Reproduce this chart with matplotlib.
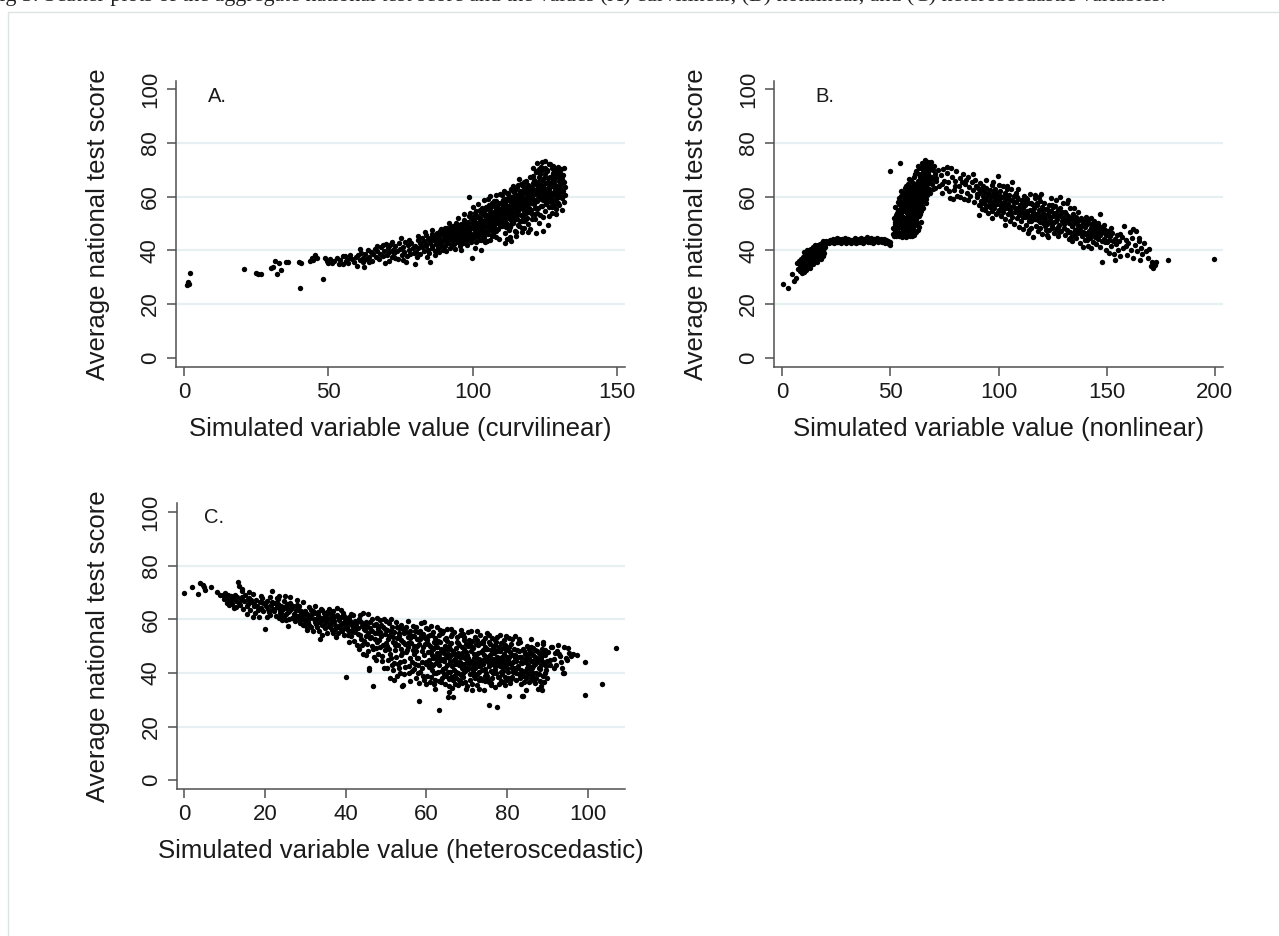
import matplotlib
matplotlib.use("Agg")
import matplotlib.pyplot as plt
from matplotlib.patches import Rectangle

# ---------------- data ----------------
curvilinear_points = [
 (0.8,27.2),(1.2,28.1),(1.6,27.6),(2.1,31.4),(20.8,33.0),(24.8,31.6),(25.6,31.2),(26.5,31.3),(30.2,33.3),(30.8,33.8),
 (31.5,36.0),(32.2,31.0),(33.0,35.2),(33.5,32.6),(35.2,35.6),(36.0,35.5),(39.8,35.5),(40.5,35.1),(40.0,26.0),(43.5,36.1),
 (44.3,37.2),(44.8,36.4),(45.3,38.1),(46.0,37.3),(48.2,29.3),(48.9,37.0),(49.6,36.2),(50.0,35.4),
 (50.5,36.8),(51.2,35.4),(52.0,36.1),(52.8,37.2),(53.5,35.0),(54.1,36.5),(54.9,34.8),(55.6,37.8),(56.2,36.0),(56.8,35.2),
 (57.5,38.3),(58.1,36.6),(58.8,35.7),(59.4,37.4),(59.9,34.3),(55.0,38.0),(57.0,37.0),
 (60.3,38.2),(60.8,36.4),(61.4,39.0),(61.9,37.1),(62.3,33.8),(62.7,38.6),(63.2,36.9),(63.8,40.1),(64.2,37.6),(64.7,39.3),
 (65.1,36.2),(65.6,38.8),(66.0,40.4),(66.5,37.4),(67.0,39.6),(67.4,36.8),(67.9,38.5),(68.3,41.2),(68.8,37.9),(69.2,39.8),
 (69.7,35.1),(61.0,40.5),(64.0,35.5),(66.8,41.5),(69.0,42.0),(62.0,35.6),
 (70.2,38.4),(70.6,40.9),(71.1,39.2),(71.5,42.1),(71.9,37.6),(72.4,40.3),(72.8,38.9),(73.2,41.7),(73.7,39.8),(74.1,36.9),
 (74.5,42.6),(74.9,40.5),(75.4,38.2),(75.8,41.3),(76.2,39.5),(76.6,43.0),(77.1,37.8),(77.5,41.9),(77.9,40.2),(78.3,38.6),
 (78.8,42.8),(79.2,40.9),(79.6,39.1),(79.9,34.8),(72.0,43.2),(76.0,36.5),(78.0,44.0),(73.0,37.2),(75.0,44.5),(70.0,42.5),
 (71.0,36.2),(77.0,35.6),
 (80.2,41.6),(80.5,39.4),(80.9,43.8),(81.2,40.7),(81.6,42.9),(81.9,38.6),(82.3,44.5),(82.6,41.2),(83.0,43.3),(83.3,39.9),
 (83.7,45.6),(84.0,42.4),(84.4,40.3),(84.7,44.1),(85.1,35.8),(85.4,42.8),(85.8,46.2),(86.1,41.5),(86.5,43.9),(86.8,39.7),
 (87.2,45.3),(87.5,42.6),(87.9,40.8),(88.2,44.7),(88.6,47.1),(88.9,42.0),(89.3,43.6),(89.6,40.2),(89.9,45.9),(81.0,45.5),
 (83.5,46.8),(85.0,39.0),(86.0,47.5),(87.0,38.2),(88.0,41.3),(89.0,48.0),(84.2,37.6),(82.0,42.0),(86.3,44.8),(88.4,39.4),
 (80.7,37.5),(83.8,41.8),(85.6,43.6),(87.7,46.4),
 (85.3,44.5),(85.9,41.0),(86.6,45.6),(87.3,42.3),(87.8,44.0),(88.5,46.0),(89.1,41.8),(89.7,47.2),
 (90.1,44.2),(90.3,41.8),(90.6,46.9),(90.8,43.1),(91.1,48.3),(91.3,45.5),(91.6,42.6),(91.8,47.2),(92.1,44.9),(92.3,40.9),
 (92.6,46.3),(92.8,43.7),(93.1,49.1),(93.3,45.8),(93.6,42.2),(93.8,47.8),(94.1,44.5),(94.3,50.2),(94.6,46.6),(94.8,43.0),
 (95.1,48.4),(95.3,45.1),(95.6,41.7),(95.8,47.0),(96.1,49.8),(96.3,44.3),(96.6,46.9),(96.8,42.8),(97.1,51.2),(97.3,48.0),
 (97.6,45.4),(97.8,43.6),(98.1,49.5),(98.3,46.2),(98.6,60.0),(98.8,47.6),(99.1,44.7),(99.3,51.9),(99.6,48.8),(99.8,45.9),
 (90.9,39.8),(92.0,50.3),(93.9,40.6),(95.0,52.0),(96.0,40.2),(97.0,53.5),(98.0,42.0),(99.0,54.0),(91.5,44.0),(94.5,47.5),
 (96.5,45.5),(98.5,50.5),(99.5,43.0),(92.5,48.8),(97.5,46.8),(93.5,44.2),(95.5,49.5),(99.9,37.0),(91.9,46.0),(94.9,45.8),
 (97.9,47.0),(96.9,50.0),(98.9,52.8),(90.5,48.5),
 (90.4,45.5),(91.0,43.5),(91.7,45.0),(92.2,47.6),(92.9,42.0),(93.4,46.9),(94.0,48.8),(94.7,44.0),(95.2,46.8),(95.9,43.4),
 (96.4,48.6),(97.0,45.0),(97.7,49.8),(98.2,44.4),(98.7,48.2),(99.2,46.3),(99.7,50.3),(93.0,45.3),(96.2,47.4),(98.4,45.3),
 (90.0,46.6),(88.0,43.0),
 (100.1,48.2),(100.3,44.6),(100.5,51.7),(100.7,46.3),(100.9,53.9),(101.1,49.5),(101.3,43.2),(101.5,47.8),(101.7,52.4),(101.9,45.5),
 (102.1,50.6),(102.3,48.1),(102.5,55.0),(102.7,46.9),(102.9,51.3),(103.1,40.2),(103.3,49.2),(103.5,53.6),(103.7,47.4),(103.9,50.8),
 (104.1,44.8),(104.3,52.7),(104.5,48.9),(104.7,56.1),(104.9,50.1),(105.1,46.4),(105.3,53.2),(105.5,49.7),(105.7,57.0),(105.9,51.5),
 (106.1,60.2),(106.3,47.6),(106.5,54.3),(106.7,50.4),(106.9,45.2),(107.1,52.9),(107.3,56.5),(107.5,49.1),(107.7,54.8),(107.9,51.8),
 (108.1,47.3),(108.3,58.2),(108.5,53.6),(108.7,50.0),(108.9,55.7),(109.1,44.1),(109.3,52.3),(109.5,57.6),(109.7,49.4),(109.9,54.5),
 (100.2,56.0),(101.0,41.0),(102.0,57.2),(103.0,44.0),(104.0,58.6),(105.0,43.5),(106.0,55.6),(107.0,46.0),(108.0,60.5),(109.0,47.8),
 (100.6,49.9),(101.6,50.2),(102.6,52.0),(103.6,51.0),(104.6,53.0),(105.6,52.0),(106.6,52.5),(107.6,53.5),(108.6,55.0),(109.6,53.8),
 (100.8,47.5),(101.8,48.6),(102.8,49.0),(103.8,48.5),(104.8,47.0),(105.8,48.8),(106.8,49.2),(107.8,50.3),(108.8,51.6),(109.8,50.7),
 (104.2,43.0),(106.2,43.8),(108.2,45.0),(109.4,61.0),(105.4,59.0),
 (100.4,50.8),(100.9,45.0),(101.4,52.9),(101.9,49.0),(102.4,46.3),(102.9,53.8),(103.4,50.2),(103.9,46.0),(104.4,55.0),(104.9,51.7),
 (105.4,48.2),(105.9,54.3),(106.4,49.9),(106.9,57.8),(107.4,51.3),(107.9,48.0),(108.4,56.5),(108.9,52.9),(109.4,49.0),(109.9,57.5),
 (100.0,52.5),(101.2,54.6),(102.2,44.0),(103.2,55.9),(104.2,50.0),(105.2,55.8),(106.2,51.8),(107.2,47.5),(108.2,53.0),(109.2,55.2),
 (101.5,46.8),(103.5,45.3),(105.5,46.0),(107.5,58.4),(109.5,51.2),
 (110.1,53.4),(110.3,49.0),(110.5,57.8),(110.7,51.2),(110.9,55.6),(111.1,46.5),(111.3,59.1),(111.5,53.9),(111.7,50.3),(111.9,56.7),
 (112.1,44.2),(112.3,61.3),(112.5,54.8),(112.7,51.9),(112.9,58.4),(113.1,48.6),(113.3,55.2),(113.5,62.7),(113.7,52.5),(113.9,57.3),
 (114.1,50.0),(114.3,60.4),(114.5,54.1),(114.7,47.3),(114.9,58.9),(115.1,56.0),(115.3,63.5),(115.5,51.6),(115.7,59.7),(115.9,54.7),
 (116.1,49.2),(116.3,61.8),(116.5,57.1),(116.7,53.3),(116.9,64.9),(117.1,58.2),(117.3,47.0),(117.5,55.5),(117.7,62.3),(117.9,51.0),
 (118.1,59.6),(118.3,56.4),(118.5,66.0),(118.7,53.8),(118.9,60.9),(119.1,49.8),(119.3,63.2),(119.5,57.7),(119.7,54.4),(119.9,67.2),
 (110.2,60.5),(111.0,62.0),(112.0,49.5),(113.0,45.0),(114.0,64.0),(115.0,45.5),(116.0,66.5),(117.0,50.8),(118.0,48.5),(119.0,52.0),
 (110.6,54.5),(111.6,55.5),(112.6,56.5),(113.6,56.0),(114.6,57.0),(115.6,57.5),(116.6,58.5),(117.6,59.0),(118.6,58.0),(119.6,60.0),
 (110.8,52.2),(111.8,52.8),(112.8,53.5),(113.8,54.3),(114.8,55.5),(115.8,56.2),(116.8,55.8),(117.8,57.0),(118.8,56.8),(119.8,58.5),
 (110.4,56.2),(111.4,57.8),(112.4,59.5),(113.4,58.5),(114.4,61.8),(115.4,60.8),(116.4,62.0),(117.4,63.8),(118.4,63.0),(119.4,64.5),
 (113.2,43.5),(115.2,46.8),(117.2,48.2),(119.2,46.8),(111.2,42.8),
 (110.2,55.8),(110.7,58.9),(111.2,50.8),(111.7,58.6),(112.2,53.3),(112.7,60.3),(113.2,51.2),(113.7,59.8),(114.2,52.6),(114.7,62.6),
 (115.2,54.2),(115.7,49.6),(116.2,59.3),(116.7,56.3),(117.2,61.0),(117.7,53.9),(118.2,61.8),(118.7,51.5),(119.2,58.9),(119.7,62.4),
 (110.5,50.0),(111.5,48.6),(112.5,47.4),(113.5,49.9),(114.5,51.2),(115.5,53.2),(116.5,51.1),(117.5,52.6),(118.5,54.6),(119.5,55.8),
 (110.9,57.0),(112.9,55.8),(114.9,56.6),(116.9,60.3),(118.9,63.6),(111.9,61.5),(113.9,62.0),(115.9,64.5),(117.9,65.6),(119.9,61.6),
 (120.1,59.4),(120.3,55.0),(120.5,63.7),(120.7,51.8),(120.9,67.8),(121.1,60.6),(121.3,57.2),(121.5,65.1),(121.7,53.4),(121.9,69.5),
 (122.1,61.9),(122.3,58.3),(122.5,72.4),(122.7,55.7),(122.9,64.8),(123.1,50.2),(123.3,62.6),(123.5,68.3),(123.7,59.0),(123.9,71.2),
 (124.1,56.4),(124.3,64.0),(124.5,47.2),(124.7,66.9),(124.9,60.3),(125.1,73.3),(125.3,54.6),(125.5,62.1),(125.7,69.7),(125.9,57.9),
 (126.1,65.5),(126.3,61.0),(126.5,72.0),(126.7,52.9),(126.9,67.4),(127.1,59.6),(127.3,63.8),(127.5,70.6),(127.7,56.3),(127.9,66.2),
 (128.1,61.7),(128.3,69.0),(128.5,58.8),(128.7,64.5),(128.9,53.4),(129.1,67.7),(129.3,62.8),(129.5,71.0),(129.7,60.0),(129.9,65.8),
 (130.1,56.9),(130.3,68.9),(130.5,63.4),(130.7,70.3),(130.9,59.5),(131.1,66.6),(131.3,62.0),(131.5,68.2),(131.7,58.0),(132.0,63.5),
 (120.0,48.0),(121.0,70.5),(122.0,46.5),(123.0,66.0),(124.0,70.0),(125.0,58.5),(126.0,59.0),(127.0,61.5),(128.0,71.5),(129.0,55.5),
 (120.4,61.5),(121.4,62.5),(122.4,63.0),(123.4,64.5),(124.4,62.0),(125.4,65.0),(126.4,63.5),(127.4,65.5),(128.4,66.0),(129.4,64.0),
 (120.6,57.5),(121.6,58.8),(122.6,60.2),(123.6,61.3),(124.6,58.6),(125.6,60.8),(126.6,62.4),(127.6,60.5),(128.6,62.0),(129.6,61.5),
 (130.4,66.0),(131.8,65.5),(126.2,49.5),(128.2,57.0),
 (120.2,62.8),(120.8,59.6),(121.2,66.3),(121.8,55.8),(122.2,64.2),(122.8,61.3),(123.2,67.4),(123.8,56.7),(124.2,65.7),(124.8,63.2),
 (125.2,68.6),(125.8,61.3),(126.2,66.9),(126.8,64.8),(127.2,58.0),(127.8,68.8),(128.2,63.7),(128.8,67.3),(129.2,59.5),(129.8,69.2),
 (130.2,61.3),(130.8,64.7),(131.2,59.8),(131.6,70.5),(120.5,53.5),(121.5,51.5),(122.5,54.0),(123.5,53.2),(124.5,52.4),(125.5,57.1),
 (126.5,56.0),(127.5,54.0),(128.5,60.5),(129.5,57.5),(120.9,65.0),(122.0,69.0),(123.0,70.3),(124.2,72.9),(125.0,70.8),(126.0,70.0),
 (127.0,72.3),(128.0,68.0),(129.0,70.2),(130.0,67.3),(121.2,58.8),(123.9,60.3),(126.4,59.8),(128.9,61.0),(131.0,55.0),(132.1,60.5),
]

nonlinear_points = [
 (0.5,27.4),(2.8,25.9),(4.3,31.3),(5.6,28.6),(6.2,29.8),(6.8,35.4),(7.1,33.2),(7.6,36.1),(8.0,32.4),(8.3,34.7),(8.7,36.6),(9.0,31.6),
 (9.3,33.4),(9.5,35.8),(9.7,37.5),(9.9,32.1),(10.1,34.6),(10.3,36.9),(10.5,38.6),(10.7,33.5),(10.9,35.7),(11.1,37.8),
 (11.3,39.4),(11.5,34.2),(11.7,36.4),(11.9,38.3),(12.1,35.1),(12.3,40.0),(12.5,37.0),(12.7,39.1),(12.9,34.8),(13.1,36.2),
 (13.3,38.8),(13.5,40.6),(13.7,35.9),(13.9,37.7),(14.1,39.6),(14.3,41.2),(14.5,36.6),(14.7,38.4),(14.9,40.3),(15.1,37.3),
 (15.3,41.5),(15.5,39.0),(15.7,36.0),(15.9,40.8),(16.1,38.1),(16.3,42.0),(16.5,39.7),(16.7,37.6),(16.9,41.1),(17.1,38.9),
 (17.3,42.4),(17.5,40.2),(17.7,37.4),(17.9,41.7),(18.1,39.5),(18.3,42.8),(18.5,40.6),(18.7,38.2),(18.9,41.9),(19.1,43.0),
 (19.3,40.9),(19.5,39.0),(19.7,42.3),(19.9,41.4),(10.0,39.5),(11.0,32.6),(12.0,37.9),(13.0,33.6),(14.0,35.0),(15.0,42.0),
 (16.0,35.8),(17.0,40.0),(18.0,36.9),(19.0,38.0),(20.0,42.6),(20.3,43.3),(12.6,36.0),(14.6,39.4),(16.6,40.6),(10.6,37.2),
 (11.6,40.2),(13.6,37.5),(15.6,40.0),(17.6,39.3),(18.6,43.3),(9.6,34.0),(11.4,35.3),(13.4,39.8),(15.4,38.2),
 (10.2,36.0),(11.2,38.9),(12.2,34.2),(13.2,40.5),(14.2,37.1),(15.2,40.4),(16.2,37.0),(17.2,41.8),(18.2,38.6),(19.2,42.0),
 (10.8,34.0),(12.8,38.0),(14.8,35.5),(16.8,39.0),(18.8,40.1),
 (21.0,43.2),(21.6,42.6),(22.2,43.9),(22.8,43.0),(23.4,44.3),(24.0,42.8),(24.6,43.6),(25.2,44.5),(25.8,43.1),(26.4,43.8),
 (27.0,42.7),(27.6,44.1),(28.2,43.4),(28.8,44.6),(29.4,42.9),(30.0,43.7),(30.6,44.3),(31.2,43.2),(31.8,42.6),(32.4,44.0),
 (33.0,43.5),(33.6,44.7),(34.2,42.9),(34.8,43.8),(35.4,44.4),(36.0,43.1),(36.6,43.9),(37.2,42.7),(37.8,44.2),(38.4,43.4),
 (39.0,44.8),(39.6,43.0),(40.2,43.7),(40.8,44.5),(41.4,43.3),(42.0,42.8),(42.6,44.1),(43.2,43.6),(43.8,44.6),(44.4,43.0),
 (45.0,43.9),(45.6,44.3),(46.2,43.2),(46.8,43.7),(47.4,42.9),(48.0,44.0),(48.6,43.4),(49.2,42.3),(49.6,43.1),(50.0,42.0),
 (23.0,43.5),(26.0,44.2),(29.0,43.3),(32.0,43.6),(35.0,43.0),(38.0,43.6),(41.0,44.0),(44.0,43.4),(47.0,44.4),(36.3,44.6),
 (31.5,44.0),(27.3,43.4),
 (22.5,43.4),(25.5,43.2),(28.5,43.9),(31.0,43.8),(34.5,43.4),(37.5,43.8),(40.5,43.1),(43.5,44.1),(46.5,43.5),(49.0,43.6),
 (24.3,44.0),(33.3,43.0),(39.3,44.0),(45.3,43.3),
 (49.8,69.6),(54.4,72.4),
 (51.0,46.2),(51.3,48.5),(51.6,45.4),(51.9,50.7),(52.2,47.3),(52.5,53.0),(52.8,45.8),(53.1,49.4),(53.4,55.2),(53.7,46.9),
 (51.5,52.0),(52.0,56.0),(52.7,51.2),(53.2,47.8),(53.5,58.0),(52.4,45.2),
 (53.8,51.8),(54.0,45.3),(54.2,57.1),(54.4,48.6),(54.6,53.9),(54.8,46.5),(55.0,60.2),(55.2,50.3),(55.4,55.8),(55.6,47.6),
 (55.8,52.6),(56.0,45.5),(54.1,59.5),(54.5,50.8),(54.9,62.0),(55.3,44.9),(55.7,57.4),(56.1,49.2),(54.3,46.0),(55.1,54.0),
 (55.9,61.0),(54.7,56.5),(55.5,48.5),
 (56.2,54.7),(56.4,58.9),(56.6,47.1),(56.8,63.1),(57.0,51.4),(57.2,56.2),(57.4,45.6),(57.6,60.4),(57.8,49.3),(58.0,64.6),
 (58.2,53.2),(58.4,46.4),(58.6,57.9),(58.8,50.6),(59.0,62.0),(59.2,45.2),(59.4,55.3),(59.6,66.1),(59.8,48.3),(60.0,59.7),
 (56.5,52.0),(57.1,45.1),(57.5,53.8),(58.1,61.5),(58.5,48.0),(59.1,52.7),(59.5,58.6),(56.9,49.8),(57.9,56.8),(58.9,45.7),
 (59.9,63.6),(56.3,61.2),(57.3,64.0),(58.3,59.4),(59.3,47.2),(56.7,45.9),(57.7,47.8),(58.7,66.6),(59.7,50.4),(60.0,45.4),
 (60.2,53.6),(60.4,61.8),(60.6,46.3),(60.8,67.4),(61.0,56.5),(61.2,49.5),(61.4,64.2),(61.6,58.9),(61.8,51.7),(62.0,69.5),
 (62.2,55.0),(62.4,62.8),(62.6,47.6),(62.8,66.0),(63.0,59.5),(63.2,52.9),(63.4,70.7),(63.6,56.8),(63.8,63.9),(64.0,50.6),
 (60.3,57.7),(60.7,50.2),(61.1,45.6),(61.5,68.3),(61.9,60.7),(62.3,53.8),(62.7,71.6),(63.1,48.8),(63.5,61.0),(63.9,67.5),
 (60.5,65.0),(61.3,54.4),(62.1,58.0),(62.9,55.9),(63.7,59.6),(60.9,62.5),(61.7,47.0),(62.5,64.6),(63.3,65.3),(64.0,57.9),
 (64.2,62.4),(64.4,68.6),(64.6,56.4),(64.8,72.5),(65.0,60.1),(65.2,66.3),(65.4,58.7),(65.6,70.2),(65.8,63.5),(66.0,73.5),
 (66.2,61.2),(66.4,67.8),(66.6,59.0),(66.8,71.1),(67.0,64.6),(67.2,69.3),(67.4,62.0),(67.6,72.8),(67.8,66.1),(68.0,63.0),
 (64.3,59.9),(64.9,64.9),(65.5,68.0),(66.1,65.6),(66.7,63.4),(67.3,67.0),(67.9,70.0),(64.7,70.5),(65.3,71.9),(66.5,69.9),
 (64.1,54.5),(65.1,55.8),(66.3,57.8),(67.1,60.5),(65.9,62.0),(67.7,65.0),
 (52.3,49.8),(52.9,54.0),(53.3,51.6),(53.9,49.0),(54.3,52.7),(54.7,58.0),(55.1,46.5),(55.4,51.6),(55.8,54.8),(56.2,47.8),
 (56.5,56.6),(56.9,59.8),(57.3,50.1),(57.6,58.0),(58.0,51.9),(58.3,55.0),(58.7,62.8),(59.0,47.0),(59.3,60.3),(59.6,54.0),
 (60.0,51.8),(60.3,48.0),(60.6,59.4),(61.0,63.3),(61.3,51.2),(61.7,56.0),(62.0,61.5),(62.3,50.0),(62.7,58.6),(63.0,68.6),
 (63.3,57.8),(63.7,62.4),(64.0,66.0),(64.4,58.2),(64.8,61.6),(65.2,64.1),(65.6,66.5),(66.0,69.4),(66.5,64.9),(67.0,71.9),
 (67.5,68.4),(68.0,66.4),(56.0,51.5),(57.0,55.0),(58.0,47.5),(59.0,57.0),(60.0,55.5),(61.0,52.9),(62.0,52.5),(63.0,62.2),
 (64.0,63.5),(65.0,70.1),(53.0,52.5),(54.5,49.5),(55.5,56.8),(56.5,49.0),(57.5,61.7),(58.5,63.8),(59.5,49.3),(60.5,56.9),
 (61.5,60.1),(62.5,57.5),(63.5,53.4),(64.5,65.3),(66.5,72.4),
 (68.3,71.6),(68.6,67.4),(68.9,73.0),(69.2,64.8),(69.5,69.8),(69.8,66.6),(70.1,71.3),(70.4,63.4),(70.7,68.4),(68.5,61.5),
 (69.0,70.9),(69.7,62.8),(70.9,65.9),
 (71.3,66.8),(72.0,69.9),(72.6,64.1),(73.2,68.1),(73.8,61.5),(74.4,70.3),(75.0,66.0),(75.6,63.2),(76.2,68.7),(76.8,65.3),
 (77.4,59.5),(78.0,70.8),(78.6,67.2),(79.2,62.6),(79.8,65.8),(80.4,69.4),(81.0,60.3),(81.6,64.0),(82.2,66.9),(82.8,62.0),
 (83.4,68.6),(84.0,59.0),(84.6,64.8),(85.2,61.4),(85.8,67.3),(86.4,63.6),(87.0,60.2),(87.6,65.4),(88.2,62.5),(88.8,57.9),
 (89.4,64.1),(89.9,61.0),(74.0,64.6),(77.0,62.0),(80.0,63.8),(83.0,65.6),(86.0,58.6),(88.0,68.4),(79.0,59.3),(76.0,71.0),
 (82.0,59.8),(85.0,66.2),(89.0,66.3),
 (90.2,59.7),(90.5,63.4),(90.8,56.8),(91.1,61.5),(91.4,65.2),(91.7,58.3),(92.0,62.6),(92.3,55.4),(92.6,60.1),(92.9,64.0),
 (93.2,57.6),(93.5,61.9),(93.8,54.9),(94.1,59.2),(94.4,63.3),(94.7,56.6),(95.0,60.6),(95.3,53.8),(95.6,58.5),(95.9,62.4),
 (96.2,56.0),(96.5,59.9),(96.8,64.5),(97.1,54.7),(97.4,58.0),(97.7,61.6),(98.0,55.6),(98.3,59.4),(98.6,63.0),(98.9,53.5),
 (99.2,57.3),(99.5,60.7),(99.8,67.8),(100.1,55.1),(100.4,58.8),(100.7,62.2),(101.0,52.9),(101.3,56.6),(101.6,60.0),(101.9,63.8),
 (102.2,54.2),(102.5,58.1),(102.8,61.4),(103.1,51.8),(103.4,55.8),(103.7,59.3),(104.0,62.7),(104.3,53.6),(104.6,57.4),(104.9,60.8),
 (105.2,50.9),(105.5,55.1),(105.8,58.6),(106.1,65.5),(106.4,52.6),(106.7,56.7),(107.0,60.1),(107.3,49.9),(107.6,54.4),(107.9,57.9),
 (108.2,61.5),(108.5,51.9),(108.8,55.6),(109.1,59.2),(109.4,48.8),(109.7,53.2),(110.0,57.0),(91.0,53.0),(94.0,66.2),(97.0,52.0),
 (100.0,64.5),(103.0,49.5),(106.0,63.0),(109.0,62.8),(95.5,57.0),(99.0,58.4),(102.0,57.0),(105.0,56.3),(108.0,54.8),
 (110.3,54.3),(110.6,51.0),(110.9,58.6),(111.2,47.8),(111.5,55.7),(111.8,60.3),(112.1,52.4),(112.4,56.9),(112.7,49.5),(113.0,59.2),
 (113.3,53.7),(113.6,46.3),(113.9,57.6),(114.2,50.8),(114.5,55.0),(114.8,61.0),(115.1,48.2),(115.4,53.0),(115.7,57.1),(116.0,45.0),
 (116.3,51.7),(116.6,55.6),(116.9,59.5),(117.2,49.0),(117.5,53.4),(117.8,56.8),(118.1,47.1),(118.4,51.2),(118.7,54.9),(119.0,58.2),
 (119.3,48.5),(119.6,52.6),(119.9,56.1),(120.2,46.0),(120.5,50.3),(120.8,54.0),(121.1,57.7),(121.4,48.9),(121.7,52.1),(122.0,55.3),
 (122.3,45.7),(122.6,49.8),(122.9,53.5),(123.2,57.0),(123.5,47.5),(123.8,51.3),(124.1,54.6),(124.4,59.5),(124.7,49.0),(125.0,52.8),
 (125.3,56.1),(125.6,46.6),(125.9,50.5),(126.2,53.9),(126.5,58.7),(126.8,48.1),(127.1,51.6),(127.4,55.0),(127.7,45.4),(128.0,49.6),
 (128.3,53.1),(128.6,59.7),(128.9,47.3),(129.2,50.9),(129.5,54.3),(129.8,57.8),(112.0,54.0),(115.0,51.0),(118.0,52.8),(121.0,51.5),
 (124.0,50.4),(127.0,53.0),(130.0,52.0),(114.0,47.5),(117.0,60.5),(123.0,44.8),(126.0,56.5),(111.0,57.5),(119.5,61.0),
 (130.3,48.5),(130.6,54.4),(130.9,45.6),(131.2,51.2),(131.5,57.8),(131.8,47.7),(132.1,52.9),(132.4,44.2),(132.7,50.3),(133.0,55.6),
 (133.3,46.8),(133.6,51.9),(133.9,43.5),(134.2,49.1),(134.5,53.7),(134.8,45.9),(135.1,50.6),(135.4,47.4),(135.7,52.5),(136.0,44.7),
 (136.3,49.8),(136.6,54.3),(136.9,46.4),(137.2,51.3),(137.5,42.9),(137.8,48.2),(138.1,52.1),(138.4,45.2),(138.7,49.5),(139.0,41.2),
 (139.3,47.0),(139.6,51.0),(139.9,44.0),(140.2,48.7),(140.5,52.4),(140.8,45.8),(141.1,49.9),(141.4,41.5),(141.7,47.2),(142.0,51.5),
 (142.3,44.6),(142.6,48.4),(142.9,52.0),(143.2,46.0),(143.5,49.3),(143.8,43.1),(144.1,47.7),(144.4,50.8),(144.7,45.0),(145.0,48.9),
 (145.3,42.3),(145.6,46.6),(145.9,50.1),(146.2,44.2),(146.5,47.9),(146.8,53.4),(147.1,45.6),(147.4,48.2),(147.7,35.6),(148.0,43.5),
 (148.3,46.9),(148.6,49.6),(148.9,44.4),(149.2,47.5),(149.5,40.2),(149.8,45.8),(132.0,58.8),(135.0,55.8),(138.0,47.0),(141.0,44.0),
 (144.0,48.0),(147.0,41.2),(143.0,40.8),(140.0,50.0),(136.5,48.0),
 (90.6,61.0),(91.6,57.0),(92.4,63.0),(93.3,59.6),(94.2,56.4),(95.2,61.4),(96.0,58.0),(96.9,60.8),(97.8,57.0),(98.7,61.2),
 (99.6,54.4),(100.5,60.3),(101.4,57.8),(102.3,55.8),(103.2,60.3),(104.1,56.0),(105.0,59.0),(105.9,53.8),(106.8,58.2),(107.7,55.8),
 (108.6,59.8),(109.5,54.8),(110.4,57.0),(111.3,52.5),(112.2,58.2),(113.1,54.7),(114.0,52.2),(114.9,57.7),(115.8,54.3),(116.7,51.8),
 (117.6,57.8),(118.5,53.7),(119.4,50.6),(120.3,55.4),(121.2,52.9),(122.1,50.7),(123.0,55.2),(123.9,52.6),(124.8,48.5),(125.7,53.4),
 (126.6,51.0),(127.5,48.6),(128.4,55.8),(129.3,52.3),(130.2,49.8),(131.1,53.6),(132.0,47.0),(132.9,51.5),(133.8,49.0),(134.7,51.8),
 (135.6,46.8),(136.5,51.5),(137.4,49.2),(138.3,46.8),(139.2,50.0),(140.1,46.5),(141.0,50.9),(141.9,45.8),(142.8,49.9),(143.7,47.0),
 (144.6,49.6),(145.5,44.8),(146.4,49.0),(147.3,46.5),(148.2,48.5),(149.1,43.0),(150.0,45.8),(151.0,44.0),(152.0,48.2),(153.0,43.5),
 (112.8,59.6),(118.8,59.8),(124.8,57.0),(103.8,64.0),(97.5,65.5),(121.8,47.5),(127.8,47.0),(133.5,45.0),
 (150.2,43.0),(150.7,47.2),(151.2,39.0),(151.7,45.3),(152.2,41.7),(152.7,46.6),(153.2,38.5),(153.7,44.2),(154.2,42.5),(154.7,45.8),
 (155.2,40.1),(155.8,43.6),(156.4,38.0),(157.0,45.0),(157.6,41.0),(158.2,49.2),(158.8,44.0),(159.4,38.2),(160.0,42.8),(160.6,46.9),
 (161.2,40.0),(161.8,44.5),(162.4,37.2),(163.0,42.0),(163.6,47.2),(164.2,39.6),(164.8,43.5),(165.4,36.4),(166.0,41.0),(166.6,38.6),
 (167.4,42.7),(168.2,39.7),(169.0,37.0),(169.8,40.4),(170.4,34.0),(170.9,35.8),(171.4,33.4),(172.0,35.2),(172.6,34.6),(173.0,35.5),
 (156.0,46.0),(162.0,48.0),(154.0,36.5),(165.0,44.5),(159.0,41.8),
 (178.3,36.4),(199.5,36.9),
]

heteroscedastic_points = [
 (0.0,69.9),(2.0,71.9),(3.4,69.4),(3.8,73.6),(4.5,72.6),(4.8,72.1),(5.1,70.9),(6.7,71.9),(8.2,70.3),(8.9,69.2),(9.6,68.9),(9.9,67.4),(10.0,69.6),
 (10.3,67.8),(10.6,66.2),(10.9,69.0),(11.2,67.1),(11.5,68.6),(11.8,65.7),(12.1,67.9),(12.4,64.3),(12.7,66.9),(13.0,68.2),
 (13.2,73.8),(13.5,72.5),(13.7,65.3),(14.0,67.5),(14.2,70.6),(14.5,64.0),(14.8,66.8),(15.1,69.2),(15.4,62.1),(15.7,65.6),
 (16.0,68.0),(16.3,63.6),(16.6,66.4),(16.9,69.4),(17.2,64.9),(17.5,62.3),(17.8,67.0),(18.1,65.0),(18.4,61.0),(18.7,66.6),
 (19.0,64.1),(19.3,67.8),(19.6,63.2),(19.9,65.7),(14.4,71.2),(16.1,70.0),(18.9,68.7),(12.9,64.7),(17.0,60.8),(15.8,67.4),
 (11.0,65.2),(20.1,56.2),
 (11.5,66.6),(12.5,68.9),(13.5,66.0),(14.3,68.3),(15.5,64.8),(16.5,67.0),(17.3,65.8),(18.3,63.5),(19.5,66.2),
 (20.3,64.8),(20.6,66.9),(20.9,62.7),(21.2,68.2),(21.5,65.3),(21.8,70.4),(22.1,63.5),(22.4,66.2),(22.7,61.3),(23.0,64.6),
 (23.3,67.6),(23.6,62.4),(23.9,65.1),(24.2,59.8),(24.5,63.9),(24.8,66.7),(25.1,61.8),(25.4,64.3),(25.7,57.4),(26.0,62.9),
 (26.3,68.2),(26.6,60.6),(26.9,64.9),(27.2,62.0),(27.5,59.2),(27.8,65.2),(28.1,61.3),(28.4,63.6),(28.7,58.5),(29.0,62.4),
 (29.3,66.3),(29.6,60.2),(29.9,63.1),(20.5,61.0),(21.9,64.0),(23.4,60.5),(24.9,68.5),(26.4,63.7),(27.9,67.0),(29.4,58.0),
 (22.6,65.9),(24.0,62.5),(25.5,65.7),(27.0,60.4),(28.5,65.0),(21.0,63.0),(22.9,67.9),(24.6,61.0),(26.1,66.0),(27.6,63.5),
 (29.1,61.0),(23.8,63.5),(25.3,59.9),(28.0,60.0),(30.0,59.4),
 (20.8,64.0),(21.6,66.6),(22.3,63.0),(23.2,65.8),(24.0,60.8),(24.7,64.6),(25.6,62.8),(26.5,65.2),(27.3,61.4),(28.2,64.2),
 (29.0,60.2),(29.8,62.0),(21.3,61.5),(25.9,60.0),(28.8,63.0),(23.5,68.5),
 (30.3,62.0),(30.6,59.1),(30.9,64.6),(31.2,60.6),(31.5,57.2),(31.8,63.0),(32.1,60.1),(32.4,65.0),(32.7,58.3),(33.0,61.7),
 (33.3,55.6),(33.6,52.6),(33.9,60.4),(34.2,63.4),(34.5,57.5),(34.8,61.2),(35.1,59.0),(35.4,54.9),(35.7,62.3),(36.0,58.2),
 (36.3,60.7),(36.6,56.0),(36.9,63.1),(37.2,59.4),(37.5,53.5),(37.8,61.6),(38.1,57.3),(38.4,59.9),(38.7,63.6),(39.0,55.8),
 (39.3,58.7),(39.6,61.2),(39.9,56.9),(30.5,56.0),(31.6,61.8),(32.5,62.5),(33.4,59.0),(34.4,59.6),(35.3,62.8),(36.2,57.1),
 (37.1,61.0),(38.0,55.0),(38.9,60.9),(39.8,59.2),(31.0,58.0),(32.0,55.5),(33.8,64.0),(35.6,60.0),(37.4,57.8),(39.2,62.4),
 (30.8,61.0),(32.9,57.0),(34.9,56.8),(36.7,59.2),(38.6,58.0),(35.9,63.9),(34.0,54.3),(37.9,64.2),(39.5,54.2),(40.0,38.4),
 (30.7,60.3),(31.4,63.5),(32.3,58.8),(33.2,62.8),(34.1,58.0),(35.0,61.0),(35.8,57.5),(36.5,61.8),(37.3,56.5),(38.2,60.5),
 (39.0,58.4),(39.7,60.5),(30.1,57.5),(32.8,60.2),(34.6,62.5),(36.8,55.0),(38.8,56.4),
 (40.3,58.4),(40.6,56.1),(40.9,60.9),(41.2,53.7),(41.5,57.9),(41.8,61.6),(42.1,55.4),(42.4,59.3),(42.7,50.4),(43.0,56.8),
 (43.3,60.2),(43.6,54.2),(43.9,57.6),(44.2,62.3),(44.5,52.0),(44.8,55.9),(45.1,59.0),(45.4,48.2),(45.7,41.9),(46.0,56.9),
 (46.3,53.3),(46.6,60.1),(46.9,46.0),(47.2,55.0),(47.5,58.2),(47.8,51.4),(48.1,56.3),(48.4,59.6),(48.7,53.7),(49.0,44.6),
 (49.3,57.0),(49.6,54.5),(49.9,51.2),(40.5,54.0),(41.0,59.5),(41.9,57.0),(42.9,58.8),(43.8,52.8),(44.6,58.4),(45.5,54.8),
 (46.4,50.0),(47.0,57.8),(47.9,54.9),(48.8,58.0),(49.7,48.5),(42.0,52.0),(43.2,48.8),(44.0,50.5),(45.0,46.6),(45.8,41.2),
 (46.7,48.8),(47.6,45.0),(48.5,49.8),(49.4,42.0),(41.4,62.0),(43.5,61.5),(45.6,61.8),(47.7,60.6),(49.5,60.0),(46.7,35.2),
 (42.3,56.0),(44.9,53.6),(46.1,58.9),(48.2,52.2),(40.8,51.5),(44.3,47.0),(48.0,47.0),
 (40.2,57.0),(40.7,59.8),(41.3,55.6),(41.7,58.6),(42.5,57.6),(43.1,54.5),(43.7,59.0),(44.4,56.2),(45.2,57.6),(45.9,53.2),
 (46.5,55.5),(47.3,52.8),(47.9,57.0),(48.6,55.4),(49.2,50.5),(49.8,56.5),(45.3,50.8),(47.4,49.2),(48.9,46.2),
 (50.2,55.9),(50.4,52.6),(50.6,58.7),(50.8,49.0),(51.0,54.3),(51.2,45.7),(51.4,57.2),(51.6,51.6),(51.8,41.0),(52.0,55.3),
 (52.2,48.4),(52.4,59.0),(52.6,53.1),(52.8,38.8),(53.0,50.4),(53.2,56.6),(53.4,44.1),(53.6,52.2),(53.8,58.0),(54.0,47.5),
 (54.2,35.6),(54.4,54.7),(54.6,50.9),(54.8,42.3),(55.0,57.3),(55.2,48.7),(55.4,53.4),(55.6,39.8),(55.8,45.6),(56.0,55.8),
 (56.2,51.3),(56.4,40.8),(56.6,57.5),(56.8,47.0),(57.0,53.7),(57.2,43.2),(57.4,38.0),(57.6,50.2),(57.8,55.1),(58.0,45.4),
 (58.2,36.2),(58.4,52.5),(58.6,58.6),(58.8,48.1),(59.0,41.7),(59.2,54.6),(59.4,37.4),(59.6,50.8),(59.8,56.7),(50.5,45.0),
 (51.5,43.0),(52.5,46.0),(53.5,40.0),(54.5,44.5),(55.5,51.0),(56.5,44.0),(57.5,48.0),(58.5,40.5),(59.5,46.5),(50.0,59.5),
 (51.1,60.0),(52.3,50.5),(53.3,54.8),(54.3,56.4),(55.3,59.3),(56.3,53.9),(57.3,57.0),(58.3,55.6),(59.3,59.0),(50.9,38.0),
 (51.9,37.5),(53.9,35.2),(55.9,37.0),(57.9,40.0),(58.2,29.4),(59.9,35.8),(50.3,50.0),(52.9,43.2),(54.9,47.9),(56.9,50.0),
 (58.9,44.1),(51.7,53.5),(53.7,49.0),(55.7,55.0),(57.7,52.8),(59.7,53.0),
 (50.7,53.6),(51.3,55.8),(52.1,51.0),(52.7,57.0),(53.1,53.8),(53.6,46.6),(54.1,51.6),(54.7,55.6),(55.3,49.6),(55.9,53.0),
 (56.6,48.5),(57.1,55.5),(57.6,45.6),(58.1,50.8),(58.7,53.9),(59.2,49.6),(59.8,43.5),(51.0,47.0),(52.0,43.8),(53.2,41.8),
 (54.4,39.5),(55.6,42.5),(56.8,41.6),(57.9,43.0),(59.1,39.0),(50.2,42.0),
 (60.1,52.4),(60.3,47.8),(60.5,56.2),(60.7,42.3),(60.9,50.0),(61.1,38.6),(61.3,54.1),(61.5,45.5),(61.7,49.1),(61.9,35.9),
 (62.1,53.0),(62.3,43.7),(62.5,57.0),(62.7,47.3),(62.9,40.4),(63.1,26.3),(63.3,51.5),(63.5,36.8),(63.7,44.9),(63.9,55.0),
 (64.1,48.6),(64.3,39.5),(64.5,52.7),(64.7,42.0),(64.9,46.1),(65.1,56.3),(65.3,31.2),(65.5,50.2),(65.7,37.8),(65.9,44.0),
 (66.1,53.7),(66.3,34.4),(66.5,48.0),(66.7,41.1),(66.9,55.4),(67.1,45.2),(67.3,38.3),(67.5,51.6),(67.7,35.4),(67.9,47.3),
 (68.1,42.8),(68.3,54.2),(68.5,39.2),(68.7,49.5),(68.9,36.2),(69.1,45.9),(69.3,52.4),(69.5,40.7),(69.7,47.7),(69.9,34.2),
 (60.2,39.0),(60.6,45.0),(61.0,57.5),(61.4,41.0),(61.8,51.5),(62.2,37.5),(62.6,49.7),(63.0,42.8),(63.4,47.5),(63.8,38.0),
 (64.2,55.8),(64.6,36.0),(65.0,43.0),(65.4,47.0),(65.8,40.3),(66.2,51.0),(66.6,37.5),(67.0,43.5),(67.4,49.3),(67.8,40.0),
 (68.2,46.0),(68.6,56.0),(69.0,38.5),(69.4,43.3),(69.8,50.6),(60.4,53.8),(61.2,48.0),(62.0,46.0),(62.8,52.0),(63.6,49.0),
 (64.4,44.5),(65.2,52.0),(66.0,46.5),(66.8,44.8),(67.6,46.2),(68.4,44.0),(69.2,49.0),(60.8,36.7),(61.6,43.0),(62.4,40.0),
 (63.2,45.8),(64.0,41.5),(64.8,38.7),(65.6,35.0),(66.4,42.5),(67.2,40.5),(68.0,37.5),(68.8,41.8),(69.6,36.8),(65.5,32.8),
 (66.5,30.9),(60.0,44.0),(61.5,55.3),(63.0,54.0),(64.5,50.0),(66.0,56.5),(67.5,53.5),(69.0,54.5),(62.0,33.9),(67.0,35.8),
 (69.5,45.5),
 (60.3,50.6),(60.9,54.3),(61.4,46.5),(61.9,40.0),(62.4,51.2),(62.9,44.6),(63.4,56.0),(63.9,40.8),(64.4,47.5),(64.9,53.2),
 (65.4,40.5),(65.9,48.8),(66.4,54.6),(66.9,39.0),(67.4,44.6),(67.9,51.0),(68.4,37.0),(68.9,47.6),(69.4,53.4),(69.9,42.0),
 (61.0,43.5),(62.5,45.2),(64.0,45.2),(65.5,45.5),(67.0,47.0),(68.5,43.0),(63.0,37.0),(66.0,38.5),(69.0,39.8),(62.0,49.5),
 (65.0,49.0),(68.0,50.5),
 (70.1,46.8),(70.3,41.5),(70.5,52.3),(70.7,37.4),(70.9,44.6),(71.1,55.6),(71.3,33.7),(71.5,49.2),(71.7,42.9),(71.9,39.0),
 (72.1,53.5),(72.3,46.1),(72.5,35.6),(72.7,50.4),(72.9,43.7),(73.1,40.2),(73.3,54.2),(73.5,47.7),(73.7,37.3),(73.9,44.9),
 (74.1,51.1),(74.3,33.5),(74.5,41.6),(74.7,48.8),(74.9,54.9),(75.1,38.8),(75.3,45.6),(75.5,28.1),(75.7,50.9),(75.9,36.1),
 (76.1,43.3),(76.3,53.0),(76.5,40.0),(76.7,47.4),(76.9,34.9),(77.1,44.2),(77.3,51.5),(77.5,27.4),(77.7,38.4),(77.9,49.6),
 (78.1,42.5),(78.3,54.3),(78.5,36.9),(78.7,46.1),(78.9,40.8),(79.1,52.2),(79.3,44.0),(79.5,35.4),(79.7,48.4),(79.9,41.9),
 (70.2,50.0),(70.6,43.5),(71.0,48.0),(71.4,36.0),(71.8,45.5),(72.2,50.8),(72.6,39.5),(73.0,45.3),(73.4,51.0),(73.8,41.0),
 (74.2,46.5),(74.6,37.0),(75.0,49.0),(75.4,42.5),(75.8,46.8),(76.2,38.0),(76.6,50.0),(77.0,41.5),(77.4,46.0),(77.8,44.5),
 (78.2,48.0),(78.6,39.5),(79.0,45.0),(79.4,50.5),(79.8,37.5),(70.4,55.2),(71.2,52.0),(72.0,42.0),(72.8,47.5),(73.6,43.0),
 (74.4,53.0),(75.2,44.0),(76.0,48.5),(76.8,43.0),(77.6,53.5),(78.4,43.8),(79.2,47.0),(70.8,39.5),(71.6,40.5),(72.4,44.0),
 (73.2,38.0),(74.0,43.5),(74.8,40.0),(75.6,36.8),(76.4,45.2),(77.2,39.8),(78.0,36.0),(78.8,42.2),(79.6,43.2),(70.0,35.0),
 (73.0,34.2),(76.0,35.5),(79.0,36.8),(72.5,55.8),(75.5,54.0),(78.5,51.0),(74.5,45.0),(77.0,48.7),(79.8,53.8),
 (70.4,45.4),(70.9,50.8),(71.4,41.8),(71.9,47.0),(72.4,52.2),(72.9,37.5),(73.4,44.0),(73.9,48.6),(74.4,39.0),(74.9,45.8),
 (75.4,51.6),(75.9,40.8),(76.4,47.8),(76.9,52.2),(77.4,42.8),(77.9,45.5),(78.4,40.5),(78.9,49.2),(79.4,38.6),(79.9,46.0),
 (70.0,44.0),(71.5,44.2),(73.0,42.5),(74.5,49.7),(76.0,44.5),(77.5,48.0),(79.0,42.5),(72.0,38.0),(75.0,37.8),(78.0,38.5),
 (71.0,50.0),(74.0,51.8),(77.0,50.5),
 (80.1,45.0),(80.3,40.3),(80.5,49.8),(80.7,36.2),(80.9,43.2),(81.1,52.6),(81.3,38.5),(81.5,46.7),(81.7,41.7),(81.9,53.9),
 (82.1,44.4),(82.3,37.3),(82.5,48.6),(82.7,42.4),(82.9,39.7),(83.1,46.0),(83.3,51.5),(83.5,35.8),(83.7,43.7),(83.9,31.5),
 (84.1,48.1),(84.3,40.9),(84.5,45.3),(84.7,38.1),(84.9,50.2),(85.1,43.0),(85.3,36.6),(85.5,47.4),(85.7,41.2),(85.9,44.6),
 (86.1,39.0),(86.3,49.4),(86.5,42.5),(86.7,37.0),(86.9,46.1),(87.1,40.1),(87.3,50.6),(87.5,43.9),(87.7,34.0),(87.9,47.5),
 (88.1,41.3),(88.3,35.0),(88.5,45.2),(88.7,48.9),(88.9,38.9),(89.1,43.5),(89.3,46.8),(89.6,41.0),(89.9,44.4),(80.4,53.0),
 (81.4,44.0),(82.4,46.0),(83.4,41.0),(84.4,44.0),(85.4,45.5),(86.4,44.4),(87.4,45.5),(88.4,42.8),(89.4,40.0),(80.8,47.8),
 (81.8,48.8),(82.8,51.2),(83.8,49.0),(84.8,46.8),(85.8,49.8),(86.8,48.6),(87.8,42.0),(88.8,50.6),(80.2,38.0),(81.2,42.0),
 (82.2,40.0),(83.2,38.0),(84.2,36.5),(85.2,39.5),(86.2,41.8),(87.2,38.0),(88.2,37.0),(89.2,36.8),(80.4,31.5),(83.6,31.3),
 (84.6,33.7),(86.0,52.5),(88.6,33.7),(89.0,51.4),
 (80.4,43.6),(80.9,50.8),(81.4,40.4),(81.9,45.6),(82.4,42.0),(82.9,48.0),(83.4,44.2),(83.9,40.0),(84.4,47.2),(84.9,42.0),
 (85.4,49.0),(85.9,38.0),(86.4,46.8),(86.9,43.2),(87.4,48.0),(87.9,39.5),(88.4,46.0),(88.9,44.0),(89.4,48.4),(89.9,38.2),
 (80.5,45.8),(82.0,46.8),(83.5,45.8),(85.0,45.0),(86.5,40.0),(88.0,44.8),(89.5,42.6),(81.0,37.6),(84.0,38.8),(87.0,36.3),
 (80.0,49.0),(83.0,52.8),(86.0,47.3),(89.0,47.5),
 (90.2,47.9),(90.7,42.8),(91.2,49.6),(91.7,45.1),(92.0,43.0),(92.4,48.2),(92.7,50.4),(93.1,46.3),(93.5,41.7),(93.8,40.1),
 (94.2,49.8),(94.5,45.7),(94.9,44.9),(95.3,47.6),(95.8,46.2),(96.3,47.1),(97.2,46.7),(99.4,43.9),(99.4,31.6),(103.4,35.9),
 (106.9,49.2),(90.5,45.0),(91.5,42.0),(92.9,47.0),(93.4,44.0),(94.0,40.0),(90.9,49.5),(91.9,47.4),(95.0,49.2),
]

y_ticks = [0, 20, 40, 60, 80, 100]
grid_values = [20, 40, 60, 80]
a_xticks = [0, 50, 100, 150]
b_xticks = [0, 50, 100, 150, 200]
c_xticks = [0, 20, 40, 60, 80, 100]
y_label = "Average national test score"
a_xlabel = "Simulated variable value (curvilinear)"
b_xlabel = "Simulated variable value (nonlinear)"
c_xlabel = "Simulated variable value (heteroscedastic)"
caption = ("Fig 3. Scatter plots of the aggregate national test score and the values "
           "(A) curvilinear, (B) nonlinear, and (C) heteroscedastic variables.")

# ---------------- layout ----------------
W, H = 1279, 936
plt.rcParams['font.family'] = ['Liberation Sans', 'DejaVu Sans']
fig = plt.figure(figsize=(W / 100, H / 100), dpi=100)
fig.patch.set_facecolor('white')

def rect(l, r, t, b):
    return [l / W, 1 - b / H, (r - l) / W, (b - t) / H]

panels = [
    (rect(176.0, 625.0, 80.7, 366.7), curvilinear_points, a_xticks, (-2.9, 152.9), a_xlabel, "A.", (0.071, 0.927)),
    (rect(774.3, 1222.7, 80.7, 366.7), nonlinear_points, b_xticks, (-3.7, 203.7), b_xlabel, "B.", (0.091, 0.927)),
    (rect(176.7, 625.0, 503.3, 789.3), heteroscedastic_points, c_xticks, (-1.9, 109.2), c_xlabel, "C.", (0.061, 0.930)),
]

AX_COL = '#505050'
GRID_COL = '#e6eff1'

for r, pts, xt, xl, xlab, letter, lpos in panels:
    ax = fig.add_axes(r)
    xs = [p[0] for p in pts]
    ys = [p[1] for p in pts]
    for g in grid_values:
        ax.axhline(g, color=GRID_COL, lw=1.6, zorder=0)
    ax.scatter(xs, ys, s=15, c='black', linewidths=0, zorder=3)
    ax.set_xlim(*xl)
    ax.set_ylim(-3.35, 103.2)
    ax.set_xticks(xt)
    ax.set_yticks(y_ticks)
    for side in ('top', 'right'):
        ax.spines[side].set_visible(False)
    for side in ('left', 'bottom'):
        ax.spines[side].set_color(AX_COL)
        ax.spines[side].set_linewidth(1.1)
    ax.tick_params(length=6.8, width=1.1, color=AX_COL, labelsize=16, labelcolor='#1a1a1a', pad=4)
    for lbl in ax.get_yticklabels():
        lbl.set_rotation(90)
        lbl.set_va('center')
    ax.set_xlabel(xlab, fontsize=18.5, color='#1a1a1a')
    ax.xaxis.set_label_coords(0.5, -0.175)
    ax.set_ylabel(y_label, fontsize=18.5, color='#1a1a1a')
    ax.yaxis.set_label_coords(-0.148, 0.5)
    ax.text(lpos[0], lpos[1], letter, transform=ax.transAxes, fontsize=14.5,
            color='#1a1a1a', va='baseline', ha='left')

# outer frame of the figure panel
fig.add_artist(Rectangle((7.5 / W, -0.02), 1.05, 1 - 11.7 / H + 0.02, transform=fig.transFigure,
                         fill=False, ec='#dde3e3', lw=1.0))

# caption (only its lower part is visible at the top edge, as in the source)
cap = fig.text(1166 / W, 1 - 1.0 / H, caption, ha='right', va='baseline', fontsize=13,
               family=['Liberation Serif', 'DejaVu Serif'], color='#222222')
fig.canvas.draw()
w = cap.get_window_extent().width
cap.set_fontsize(13 * (1166 + 12) / w)

fig.savefig('out.png', dpi=100)
